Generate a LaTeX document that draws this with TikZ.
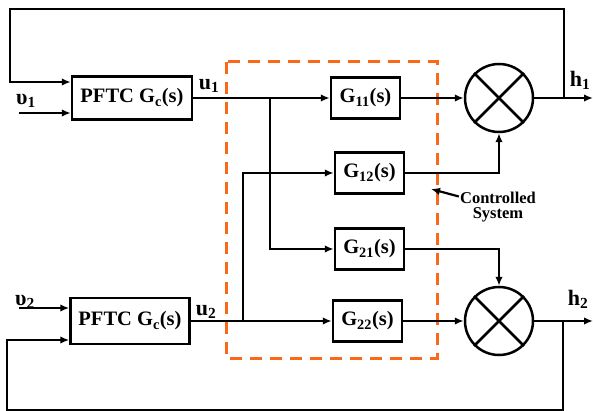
\documentclass[tikz,border=0pt]{standalone}
\usepackage{fontspec}
\setmainfont{Liberation Serif}
\usetikzlibrary{arrows.meta}
\definecolor{orng}{RGB}{250,105,25}

\tikzset{
  blk/.style={draw, line width=2.5pt, minimum width=69pt, minimum height=41pt, inner sep=0pt, font=\bfseries\fontsize{20.5}{22}\selectfont},
  mult/.style={draw, circle, line width=2.5pt, minimum size=68pt, inner sep=0pt},
  lbl/.style={font=\bfseries\fontsize{22}{24}\selectfont, inner sep=0pt}
}

\begin{document}
\begin{tikzpicture}[x=1pt, y=-1pt, line width=2.6pt, >={Latex[length=9pt,width=7.5pt]}]
\useasboundingbox (0,0) rectangle (593,411);

% controlled system frame
\draw[orng, line width=3pt, dash pattern=on 12pt off 8pt] (226,62) rectangle (437,358);

% controllers
\node[blk, minimum width=120pt, minimum height=43pt] (pftc1) at (132,98) {PFTC G\textsubscript{c}(s)};
\node[blk, minimum width=119pt, minimum height=46pt] (pftc2) at (130,321) {PFTC G\textsubscript{c}(s)};

% plant blocks
\node[blk] (g11) at (365.5,98) {G\textsubscript{11}(s)};
\node[blk] (g12) at (369.5,173) {G\textsubscript{12}(s)};
\node[blk] (g21) at (369.5,249) {G\textsubscript{21}(s)};
\node[blk] (g22) at (367.5,321) {G\textsubscript{22}(s)};

% multipliers
\node[mult] (m1) at (499,98) {};
\node[mult] (m2) at (499,321) {};
\foreach \m in {m1,m2}{
  \draw[line width=2.5pt] (\m.north west) -- (\m.south east);
  \draw[line width=2.5pt] (\m.north east) -- (\m.south west);
}

% labels
\node[lbl] (v1) at (26,101) {υ\textsubscript{1}};
\node[lbl] (v2) at (25,302) {υ\textsubscript{2}};
\node[lbl] (u1) at (209,86) {u\textsubscript{1}};
\node[lbl] (u2) at (206,312) {u\textsubscript{2}};
\node[lbl] (h1) at (580,80) {h\textsubscript{1}};
\node[lbl] (h2) at (578,299) {h\textsubscript{2}};
\node[font=\bfseries\fontsize{16.5}{15}\selectfont, align=center, inner sep=0pt] (cs) at (498,207) {Controlled\\System};

% points
\coordinate (v1in) at (19,113);
\coordinate (v2in) at (19,308);
\coordinate (br1) at (270,98);
\coordinate (br2) at (243,321);
\coordinate (h1out) at (593,98);
\coordinate (h2out) at (593,321);
\coordinate (fb1) at (564,98);
\coordinate (fb2) at (563,321);
\coordinate (cstip) at (431,189);

% inputs
\draw[->] (v1in) -- (v1in -| pftc1.west);
\draw[->] (v2in) -- (v2in -| pftc2.west);

% controller outputs
\draw[->] (pftc1.east) -- (g11.west);
\draw[->] (br1) |- (g21.west);
\draw[->] (pftc2.east) -- (g22.west);
\draw[->] (br2) |- (g12.west);

% plant outputs
\draw[->] (g11.east) -- (m1.west);
\draw[->] (g12.east) -| (m1.south);
\draw[->] (g21.east) -| (m2.north);
\draw[->] (g22.east) -- (m2.west);
\draw[->] (m1.east) -- (h1out);
\draw[->] (m2.east) -- (h2out);

% feedback
\draw[->] (fb1) |- (10,9) |- ([yshift=16pt]pftc1.west);
\draw[->] (fb2) |- (7,410) |- ([yshift=-19pt]pftc2.west);

\draw[->, line width=2.2pt] (cs.165) -- (cstip);
\end{tikzpicture}
\end{document}
